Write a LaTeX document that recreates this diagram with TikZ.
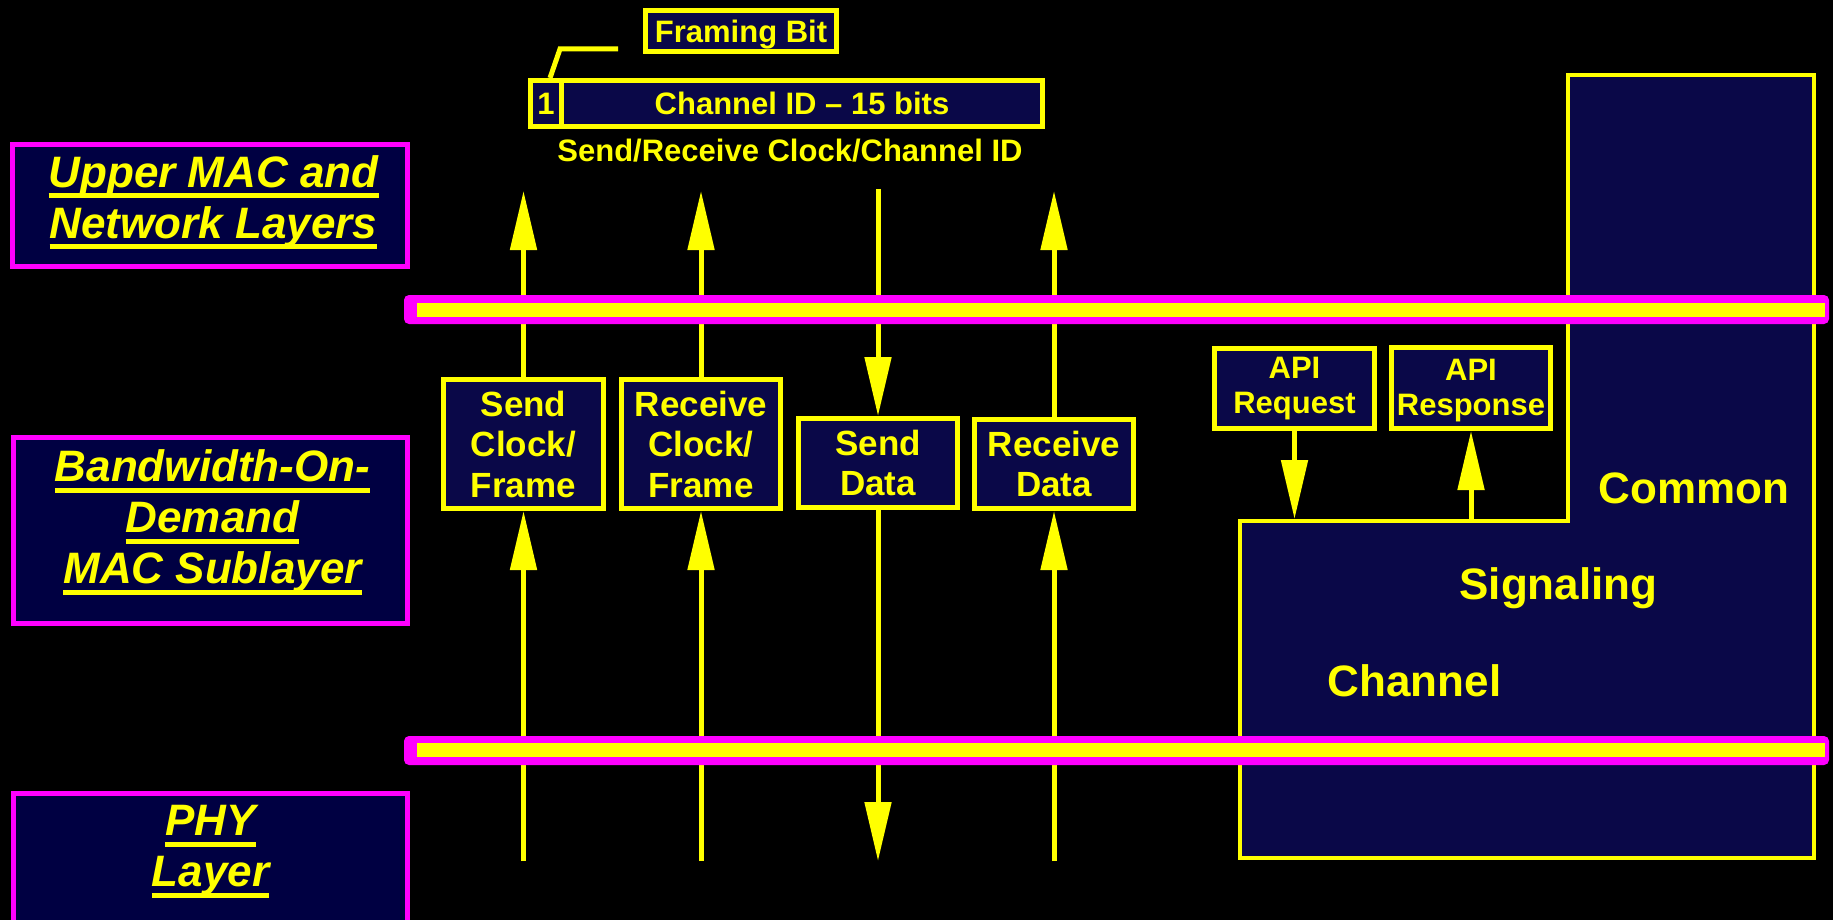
\documentclass[tikz,border=0pt]{standalone}
\usepackage{fontspec}
\setmainfont{Liberation Sans}
\usetikzlibrary{arrows.meta}
\definecolor{ylw}{RGB}{255,255,0}
\definecolor{mag}{RGB}{255,0,255}
\definecolor{boxnavy}{RGB}{10,8,72}
\definecolor{lnavy}{RGB}{0,0,66}
\newlength\myulwd
\newcommand\myul[1]{\settowidth\myulwd{#1}\rlap{#1}\smash{\rule[-11pt]{\myulwd}{5pt}}}
\begin{document}
\begin{tikzpicture}[x=1pt,y=-1pt,
 ybox/.style={draw=ylw,line width=5pt,fill=boxnavy,text=ylw,align=center,inner sep=0pt,font=\bfseries\fontsize{35}{40.5}\selectfont},
 sbox/.style={ybox,font=\bfseries\fontsize{31}{35}\selectfont},
 mbox/.style={draw=mag,line width=5pt,fill=lnavy,inner sep=0pt},
 mlabel/.style={text=ylw,align=center,inner sep=0pt,font=\bfseries\itshape\fontsize{44}{51}\selectfont},
 bigtext/.style={text=ylw,inner sep=0pt,font=\bfseries\fontsize{44}{50}\selectfont,anchor=base},
 smalltext/.style={text=ylw,inner sep=0pt,font=\bfseries\fontsize{31}{35}\selectfont,anchor=base},
 arr/.style={draw=ylw,line width=5pt,-{Triangle[width=26pt,length=59pt]}},
 plainline/.style={draw=ylw,line width=5pt}]
\useasboundingbox (0,0) rectangle (1833,920);
\fill[black] (0,0) rectangle (1833,920);

% common signaling channel area
\filldraw[fill=boxnavy,draw=ylw,line width=4pt] (1568,75) -- (1814,75) -- (1814,858) -- (1240,858) -- (1240,521) -- (1568,521) -- cycle;
\node[bigtext] (common) at (1694,503) {Common};
\node[bigtext] (signaling) at (1558.5,599) {Signaling};
\node[bigtext] (channel) at (1414.5,696) {Channel};

% left layer boxes
\node[mbox,minimum width=395pt,minimum height=122pt] (upper) at (210,205.5) {};
\node[mlabel] (upperlbl) at (213.5,201.5) {\myul{Upper MAC and}\\\myul{Network Layers}};
\node[mbox,minimum width=394pt,minimum height=186pt] (bod) at (210.5,530.5) {};
\node[mlabel] (bodlbl) at (212.5,521.5) {\myul{Bandwidth-On-}\\\myul{Demand}\\\myul{MAC Sublayer}};
\begin{scope}
\clip (0,0) rectangle (1833,920);
\node[mbox,minimum width=394pt,minimum height=200pt,anchor=north] (phy) at (210.5,791) {};
\end{scope}
\node[mlabel] (phylbl) at (210.5,850.5) {\myul{PHY}\\\myul{Layer}};

% channel id field
\node[sbox,minimum width=481pt,minimum height=46pt] (chid) at (802,103.5) {Channel ID -- 15 bits};
\node[sbox,minimum width=31pt,minimum height=46pt] (one) at (546,103.5) {1};
\node[sbox,minimum width=191pt,minimum height=41pt,text depth=0pt] (framing) at (741,31) {Framing Bit};
\coordinate (ldA) at (560,49);
\coordinate (ldB) at (618,49);
\draw[plainline] ([xshift=4pt]one.north) -- (ldA) -- (ldB);
\node[smalltext] (srlabel) at (790,162) {Send/Receive Clock/Channel ID};

% interface boxes
\node[ybox,minimum width=160pt,minimum height=129pt] (sc) at (523.5,444) {Send\\Clock/\\Frame};
\node[ybox,minimum width=159pt,minimum height=129pt] (rc) at (701,444) {Receive\\Clock/\\Frame};
\node[ybox,minimum width=159pt,minimum height=89pt] (sd) at (878,463) {Send\\Data};
\node[ybox,minimum width=159pt,minimum height=89pt] (rd) at (1054,464) {Receive\\Data};
\node[sbox,minimum width=160pt,minimum height=80pt] (apireq) at (1294.5,388.5) {API\\Request};
\node[sbox,minimum width=159pt,minimum height=81pt,text depth=2pt] (apiresp) at (1471,388) {API\\Response};

% connector ends
\coordinate (scTop) at (523.5,191);
\coordinate (scBot) at (523.5,861);
\coordinate (rcTop) at (701,191);
\coordinate (rcBot) at (701,861);
\coordinate (sdTop) at (878,189);
\coordinate (sdBot) at (878,861);
\coordinate (rdTop) at (1054,191);
\coordinate (rdBot) at (1054,861);
\coordinate (reqEnd) at (1294.5,519);
\coordinate (respStart) at (1471,519);

\draw[arr] (sc.north) -- (scTop);
\draw[arr] (scBot) -- (sc.south);
\draw[arr] (rc.north) -- (rcTop);
\draw[arr] (rcBot) -- (rc.south);
\draw[arr] (sdTop) -- (sd.north);
\draw[arr] (sd.south) -- (sdBot);
\draw[arr] (rd.north) -- (rdTop);
\draw[arr] (rdBot) -- (rd.south);
\draw[arr] (apireq.south) -- (reqEnd);
\draw[arr] (respStart) -- (apiresp.south);

% layer buses
\fill[mag,rounded corners=5pt] (404,295) rectangle (1829,324);
\fill[ylw] (417,303) rectangle (1825,317);
\fill[mag,rounded corners=5pt] (404,736) rectangle (1829,765);
\fill[ylw] (417,743) rectangle (1825,757);
\end{tikzpicture}
\end{document}
